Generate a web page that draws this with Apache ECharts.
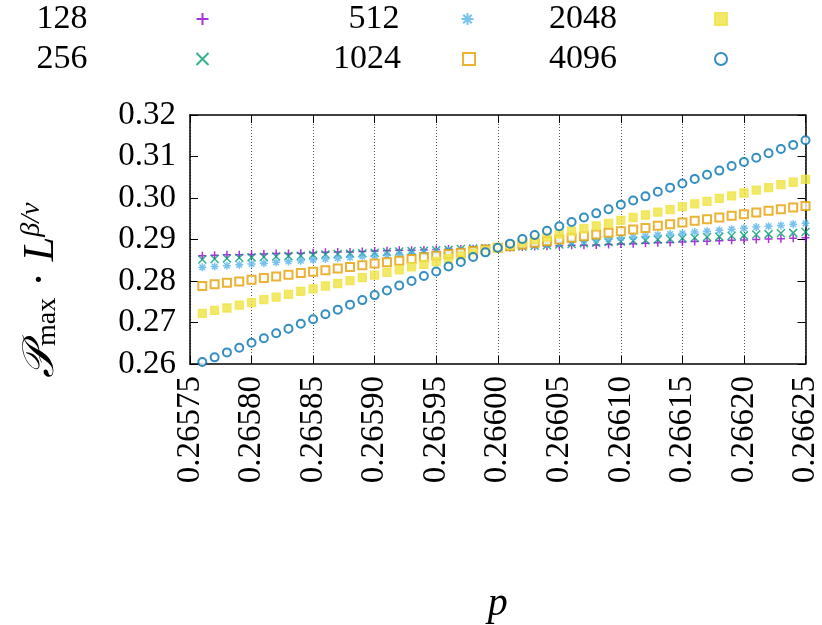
<!DOCTYPE html>
<html><head><meta charset="utf-8">
<script src="https://cdn.jsdelivr.net/npm/echarts@6/dist/echarts.min.js"></script>
<style>html,body{margin:0;background:#fff}#c{width:822px;height:625px}</style>
</head><body><div id="c"></div>
<script>
// p values: 0.26576 .. 0.26625, step 0.00001
var pStart = 0.26576, pStep = 0.00001;
var sizes = ['128', '256', '512', '1024', '2048', '4096'];
var v128 = [0.2861,0.2862,0.2863,0.2863,0.2864,0.2865,0.2866,0.2866,0.2867,0.2868,0.2869,0.2870,0.2870,0.2871,0.2872,0.2873,0.2874,0.2874,0.2875,0.2876,0.2877,0.2877,0.2878,0.2879,0.2880,
  0.2881,0.2882,0.2883,0.2884,0.2885,0.2886,0.2886,0.2887,0.2888,0.2889,0.2890,0.2891,0.2892,0.2893,0.2894,0.2895,0.2896,0.2897,0.2898,0.2899,0.2900,0.2901,0.2902,0.2903,0.2904];
var v256 = [0.2852,0.2853,0.2854,0.2856,0.2857,0.2858,0.2859,0.2860,0.2861,0.2863,0.2864,0.2865,0.2866,0.2867,0.2868,0.2870,0.2871,0.2872,0.2873,0.2874,0.2875,0.2877,0.2878,0.2879,0.2880,
  0.2882,0.2883,0.2885,0.2886,0.2888,0.2889,0.2891,0.2892,0.2894,0.2895,0.2897,0.2898,0.2900,0.2901,0.2903,0.2904,0.2906,0.2907,0.2909,0.2910,0.2912,0.2913,0.2915,0.2916,0.2918];
var v512 = [0.2833,0.2835,0.2837,0.2839,0.2841,0.2843,0.2845,0.2847,0.2849,0.2851,0.2853,0.2855,0.2857,0.2859,0.2861,0.2862,0.2864,0.2866,0.2868,0.2870,0.2872,0.2874,0.2876,0.2878,0.2880,
  0.2882,0.2885,0.2887,0.2889,0.2892,0.2894,0.2897,0.2899,0.2901,0.2904,0.2906,0.2908,0.2911,0.2913,0.2915,0.2918,0.2920,0.2922,0.2925,0.2927,0.2930,0.2932,0.2934,0.2937,0.2939];
var v1024 = [0.2788,0.2792,0.2796,0.2799,0.2803,0.2807,0.2811,0.2815,0.2819,0.2822,0.2826,0.2830,0.2834,0.2838,0.2842,0.2845,0.2849,0.2853,0.2857,0.2861,0.2865,0.2868,0.2872,0.2876,0.2880,
  0.2884,0.2888,0.2892,0.2896,0.2900,0.2904,0.2908,0.2912,0.2916,0.2920,0.2924,0.2928,0.2933,0.2937,0.2941,0.2945,0.2949,0.2953,0.2957,0.2961,0.2965,0.2969,0.2973,0.2977,0.2981];
var v2048 = [0.2722,0.2729,0.2735,0.2742,0.2748,0.2755,0.2761,0.2768,0.2775,0.2781,0.2788,0.2794,0.2801,0.2808,0.2814,0.2821,0.2827,0.2834,0.2840,0.2847,0.2854,0.2860,0.2867,0.2873,0.2880,
  0.2887,0.2893,0.2900,0.2906,0.2913,0.2920,0.2926,0.2933,0.2939,0.2946,0.2953,0.2959,0.2966,0.2972,0.2979,0.2986,0.2992,0.2999,0.3005,0.3012,0.3019,0.3025,0.3032,0.3038,0.3045];
var v4096 = [0.2605,0.2616,0.2628,0.2639,0.2651,0.2662,0.2674,0.2685,0.2697,0.2708,0.2720,0.2731,0.2743,0.2754,0.2766,0.2777,0.2789,0.2800,0.2812,0.2823,0.2835,0.2846,0.2858,0.2869,0.2880,
  0.2890,0.2901,0.2911,0.2921,0.2932,0.2942,0.2953,0.2963,0.2973,0.2984,0.2994,0.3004,0.3015,0.3025,0.3035,0.3046,0.3056,0.3066,0.3077,0.3087,0.3097,0.3108,0.3118,0.3128,0.3139];
var values = [v128, v256, v512, v1024, v2048, v4096];
var colors = ['#9400d3', '#009e73', '#56b4e9', '#e69f00', '#f0e442', '#0072b2'];
var symbols = [
  'path://M5,0L5,10M0,5L10,5',
  'path://M0,0L10,10M10,0L0,10',
  'path://M5,0L5,10M0,5L10,5M1.5,1.5L8.5,8.5M8.5,1.5L1.5,8.5',
  'emptyRect', 'rect', 'emptyCircle'
];
var stroked = [true, true, true, false, false, false];

var font = '"Liberation Serif", "DejaVu Serif", serif';
var chart = echarts.init(document.getElementById('c'));

var series = sizes.map(function (name, k) {
  return {
    name: name, type: 'scatter', symbol: symbols[k],
    symbolSize: 8, xAxisIndex: 0, yAxisIndex: 0,
    itemStyle: stroked[k]
      ? { color: 'none', borderColor: colors[k], borderWidth: 1.5 }
      : { color: colors[k], borderColor: colors[k], borderWidth: 1.3 },
    data: values[k].map(function (v, i) { return [pStart + i * pStep, v]; })
  };
});

// one legend item each: [name, right edge of icon, top, gap text->icon]
var legendPos = [
  ['128', 211, 2, 104], ['256', 211, 42, 104],
  ['512', 476, 2, 57], ['1024', 476, 42, 57],
  ['2048', 728, 2, 93], ['4096', 728, 42, 93]
];
var legends = legendPos.map(function (it) {
  return {
    data: [it[0]], top: it[2], right: 822 - it[1], align: 'right',
    itemWidth: 12, itemHeight: 12, padding: 0,
    textStyle: { fontFamily: font, fontSize: 34, color: '#000', padding: [0, it[3], 0, 0] }
  };
});

chart.setOption({
  animation: false,
  color: colors,
  grid: { left: 190, right: 14, top: 115, bottom: 255 },
  legend: legends,
  xAxis: [{
    type: 'value', min: 0.26575, max: 0.26625, interval: 0.00005,
    axisLine: { lineStyle: { color: '#000', width: 1.5 } },
    axisTick: { inside: true, length: 8, lineStyle: { color: '#000' } },
    axisLabel: { rotate: 90, fontFamily: font, fontSize: 33, color: '#000', margin: 12,
      formatter: function (v) { return v.toFixed(5); } },
    splitLine: { show: true, lineStyle: { color: '#555', type: [1, 2], width: 1 } },
    name: 'p', nameLocation: 'middle', nameGap: 220,
    nameTextStyle: { fontFamily: font, fontSize: 40, fontStyle: 'italic', color: '#000' }
  }, {
    type: 'value', position: 'top', min: 0.26575, max: 0.26625, interval: 0.00005,
    axisLine: { lineStyle: { color: '#000', width: 1.5 } },
    axisTick: { inside: true, length: 8, lineStyle: { color: '#000' } },
    axisLabel: { show: false }, splitLine: { show: false }
  }],
  yAxis: [{
    type: 'value', min: 0.26, max: 0.32, interval: 0.01,
    axisLine: { show: true, lineStyle: { color: '#000', width: 1.5 } },
    axisTick: { inside: true, length: 8, lineStyle: { color: '#000' } },
    axisLabel: { fontFamily: font, fontSize: 33, color: '#000', margin: 14,
      formatter: function (v) { return v.toFixed(2); } },
    splitLine: { show: false }
  }, {
    type: 'value', position: 'right', min: 0.26, max: 0.32, interval: 0.01,
    axisLine: { show: true, lineStyle: { color: '#000', width: 1.5 } },
    axisTick: { inside: true, length: 8, lineStyle: { color: '#000' } },
    axisLabel: { show: false }, splitLine: { show: false }
  }],
  graphic: [{
    type: 'text', x: 18, y: 378, rotation: Math.PI / 2,
    style: {
      text: '{a|𝒫}{s|max}{b| · }{a|L}{t|β/ν}',
      rich: {
        a: { fontFamily: font, fontSize: 44, fontStyle: 'italic', fill: '#000' },
        b: { fontFamily: font, fontSize: 44, fill: '#000' },
        s: { fontFamily: font, fontSize: 28, fill: '#000', padding: [14, 0, 0, 0] },
        t: { fontFamily: font, fontSize: 28, fontStyle: 'italic', fill: '#000', padding: [0, 0, 18, 0] }
      }
    }
  }],
  series: series
});
</script>
</body></html>
